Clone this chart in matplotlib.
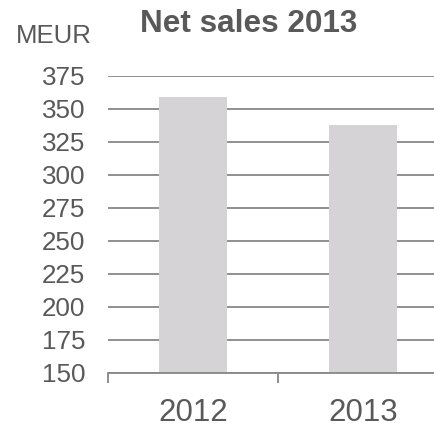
import numpy as np
import matplotlib
matplotlib.use("Agg")
import matplotlib.pyplot as plt

# Data
years = ["2012", "2013"]
net_sales = [359, 338]
y_ticks = [150, 175, 200, 225, 250, 275, 300, 325, 350, 375]

text_col = "#595959"
grid_col = "#878787"
bar_col = "#D5D3D5"

plt.rcParams["font.family"] = ["Liberation Sans", "DejaVu Sans"]

fig = plt.figure(figsize=(4.34, 4.23), dpi=100)
# axes runs off the right edge like in the original
ax = fig.add_axes([108.3 / 434, 1 - 372.7 / 423, 339.4 / 434, 297.0 / 423])

x = np.arange(len(years))
base = y_ticks[0]
ax.bar(x, np.array(net_sales) - base, bottom=base, width=0.4,
       color=bar_col, linewidth=0, zorder=3)

ax.set_xlim(-0.5, len(years) - 0.5)
ax.set_ylim(y_ticks[0], y_ticks[-1])
ax.set_yticks(y_ticks)
ax.set_yticklabels([str(v) for v in y_ticks])
ax.set_axisbelow(True)
ax.yaxis.grid(True, color=grid_col, linewidth=1.3)

for side in ["top", "right", "left"]:
    ax.spines[side].set_visible(False)
ax.spines["bottom"].set_color(grid_col)
ax.spines["bottom"].set_linewidth(1.3)
ax.spines["bottom"].set_zorder(4)

ax.tick_params(axis="y", length=0, pad=16.7, labelsize=18.7, labelcolor=text_col)
ax.set_xticks(x)
ax.set_xticklabels(years)
ax.tick_params(axis="x", which="major", length=0, pad=18, labelsize=22.5, labelcolor=text_col)
# category boundary ticks on the x axis
ax.set_xticks(np.arange(-0.5, len(years) + 0.5, 1), minor=True)
ax.tick_params(axis="x", which="minor", length=7, width=1.3, color=grid_col)

fig.text(53.7 / 434, 1 - 35.8 / 423, "MEUR", ha="center", va="center",
         fontsize=18.5, color=text_col)
fig.text(249 / 434, 1 - 24 / 423, "Net sales 2013", ha="center", va="center",
         fontsize=22.7, fontweight="bold", color=text_col)

fig.savefig("out.png", dpi=100)
